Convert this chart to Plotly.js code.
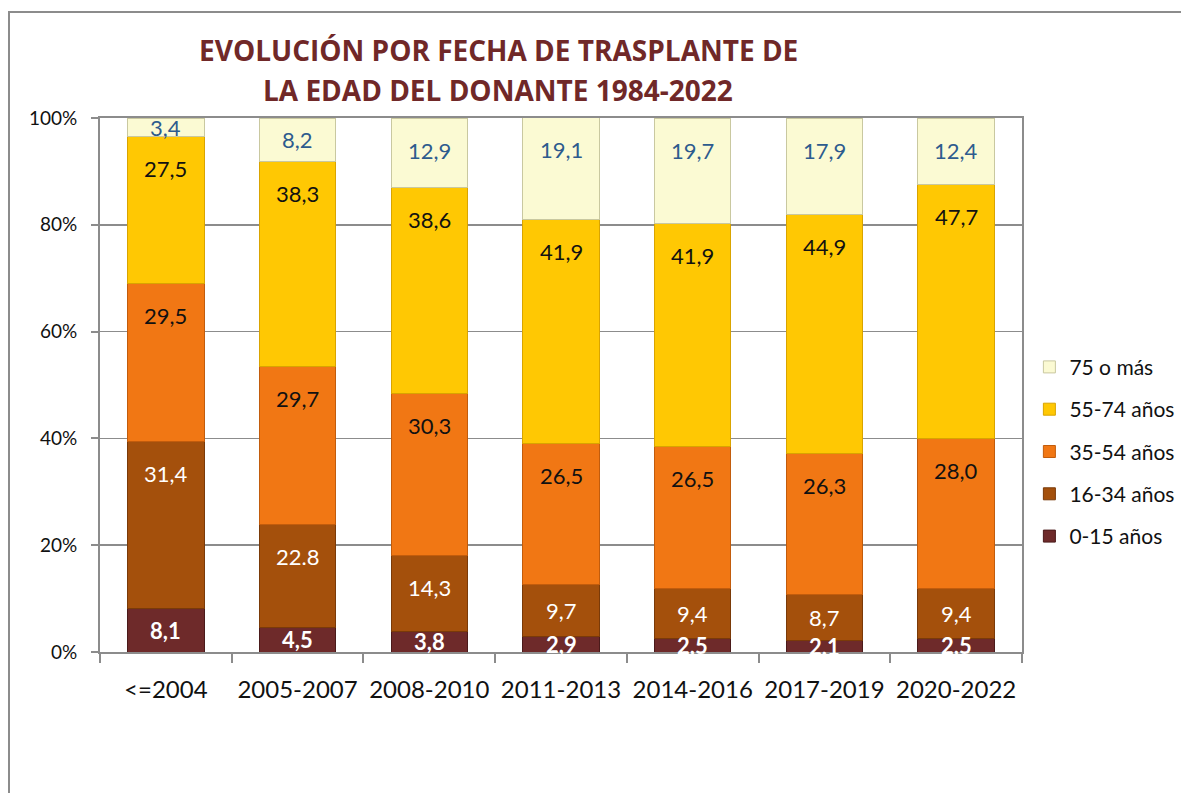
<!DOCTYPE html>
<html>
<head>
<meta charset="utf-8">
<script src="https://cdn.plot.ly/plotly-3.0.1.min.js"></script>
<style>
html,body{margin:0;padding:0;background:#fff;}
#frame{position:absolute;left:8px;top:11px;width:1300px;height:900px;border-left:2px solid #8c8c8c;border-top:2px solid #8c8c8c;pointer-events:none;}
#chart{position:absolute;left:0;top:0;width:1181px;height:793px;}
</style>
</head>
<body>
<div id="chart"></div>
<div id="frame"></div>
<script>
const categories = ['<=2004','2005-2007','2008-2010','2011-2013','2014-2016','2017-2019','2020-2022'];
const seriesNames = ['0-15 años','16-34 años','35-54 años','55-74 años','75 o más'];
const v0_15  = [8.1, 4.5, 3.8, 2.9, 2.5, 2.1, 2.5];
const v16_34 = [31.4, 19.3, 14.3, 9.7, 9.4, 8.7, 9.4];
const v35_54 = [29.5, 29.7, 30.3, 26.5, 26.5, 26.3, 28.0];
const v55_74 = [27.5, 38.3, 38.6, 41.9, 41.9, 44.9, 47.7];
const v75    = [3.4, 8.2, 12.9, 19.1, 19.7, 17.9, 12.4];
const t0_15  = ['8,1','4,5','3,8','2,9','2,5','2,1','2,5'];
const t16_34 = ['31,4','22.8','14,3','9,7','9,4','8,7','9,4'];
const t35_54 = ['29,5','29,7','30,3','26,5','26,5','26,3','28,0'];
const t55_74 = ['27,5','38,3','38,6','41,9','41,9','44,9','47,7'];
const t75    = ['3,4','8,2','12,9','19,1','19,7','17,9','12,4'];
const titleLines = ['EVOLUCIÓN POR FECHA DE TRASPLANTE DE', 'LA EDAD DEL DONANTE 1984-2022'];

const colors = ['#6E2A2A','#A4500C','#F17714','#FFC803','#FBFAD3'];
const lineColors = ['#4a1a1a','#7a3a08','#c25c0c','#d9a400','#c9c8a0'];
const textColors = ['#ffffff','#ffffff','#111111','#111111','#2D5B8E'];
const values = [v0_15, v16_34, v35_54, v55_74, v75];
const texts = [t0_15, t16_34, t35_54, t55_74, t75];

const FONT = 'Lato, "Open Sans", sans-serif';

const traces = values.map((vals, i) => ({
  type: 'bar',
  name: seriesNames[i],
  x: categories,
  y: vals,
  marker: {color: colors[i], line: {color: lineColors[i], width: 1}},
  legendgroup: 'g' + i,
  legendrank: 10 - i,
  hoverinfo: 'skip'
}));

// labels: inside end of each segment (Excel style), computed from the data
const annotations = [];
const cum = categories.map(() => 0);
values.forEach((vals, i) => {
  vals.forEach((v, j) => {
    cum[j] += v;
    const off = Math.min(6, v / 2);
    annotations.push({
      x: categories[j], y: cum[j] - off, xref: 'x', yref: 'y',
      text: texts[i][j], showarrow: false,
      xanchor: 'center', yanchor: 'middle',
      font: {family: FONT, size: 22, color: textColors[i], weight: i === 0 ? 'bold' : 'normal'}
    });
  });
});

// two-line title
[1.127, 1.052].forEach((yy, k) => {
  annotations.push({
    x: 0.4317, y: yy, xref: 'paper', yref: 'paper',
    text: '<b>' + titleLines[k] + '</b>', showarrow: false,
    xanchor: 'center', yanchor: 'middle',
    font: {family: '"Open Sans", Lato, sans-serif', size: 28, color: '#702828'}
  });
});

const layout = {
  width: 1181, height: 793,
  margin: {l: 100, r: 159, t: 118, b: 141, autoexpand: false},
  paper_bgcolor: '#ffffff',
  plot_bgcolor: '#ffffff',
  barmode: 'stack',
  bargap: 0.42,
  xaxis: {
    type: 'category',
    showline: true, linecolor: '#8c8c8c', linewidth: 2, mirror: true,
    ticks: 'outside', tickson: 'boundaries', ticklen: 9, tickcolor: '#8c8c8c', tickwidth: 2,
    tickfont: {family: FONT, size: 24, color: '#111111'},
    showgrid: false,
    ticklabelstandoff: 15
  },
  yaxis: {
    range: [0, 100], dtick: 20, ticksuffix: '%',
    showline: true, linecolor: '#8c8c8c', linewidth: 2, mirror: true,
    ticks: 'outside', ticklen: 7, tickcolor: '#8c8c8c', tickwidth: 2,
    gridcolor: '#8c8c8c', gridwidth: 1.5,
    tickfont: {family: FONT, size: 19, color: '#111111'},
    ticklabelstandoff: 10,
    zeroline: false
  },
  annotations: annotations,
  showlegend: true,
  legend: {
    x: 1.008, xanchor: 'left', y: 0.375, yanchor: 'middle',
    tracegroupgap: 12,
    font: {family: FONT, size: 21, color: '#111111'},
    itemwidth: 30, bgcolor: 'rgba(0,0,0,0)'
  }
};

Plotly.newPlot('chart', traces, layout, {displayModeBar: false, staticPlot: true});
</script>
</body>
</html>
